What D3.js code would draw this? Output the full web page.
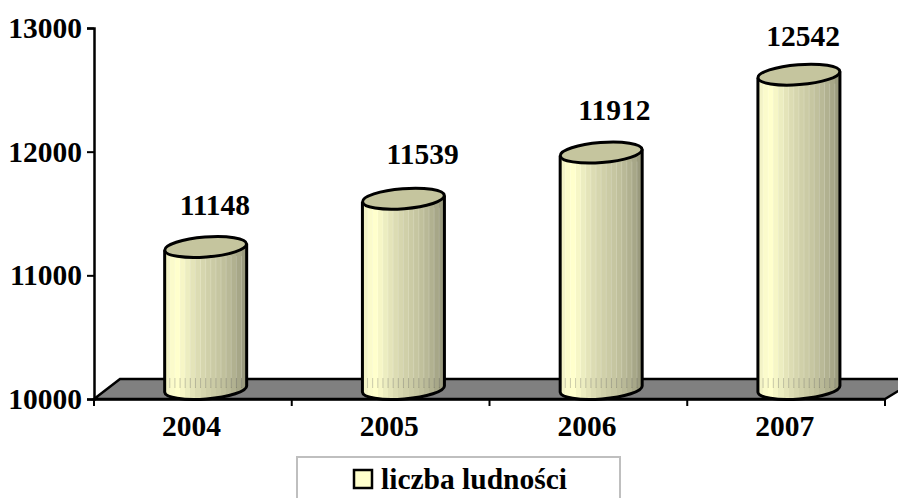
<!doctype html>
<html>
  <head>
    <meta charset="utf-8">
    <title>Liczba ludności</title>
    <script src="https://cdn.jsdelivr.net/npm/d3@7"></script>
    <style>
      html, body { margin: 0; padding: 0; background: #fff; overflow: hidden; }
      text { font-family: "Liberation Serif", serif; font-weight: bold; fill: #000; }
    </style>
  </head>
  <body>
    <script>
      const years = ['2004', '2005', '2006', '2007'];
      const population = [11148, 11539, 11912, 12542];
      const yTicks = [10000, 11000, 12000, 13000];
      const seriesName = 'liczba ludności';

      // odcienie pasków na walcu, od lewej do prawej
      const bandColors = ['#f3f3c6', '#fbfbcb', '#ffffcc', '#f6f6c6', '#ecedc0', '#e4e4b9', '#dcdcb3', '#d6d6ae',
        '#d0d0a9', '#cbcba5', '#c6c6a1', '#c0c09c', '#b9b997', '#b1b190', '#a7a788', '#9b9b7e'];

      const width = 898;
      const height = 498;
      const margin = {left: 94, right: 13, top: 28, bottom: 99};
      const depthX = 26;    // przesuniecie tylnej krawedzi podlogi
      const depthY = 20;
      const fontSize = '29.5px';

      const x = d3.scaleBand().domain(years).range([margin.left, width - margin.right]);
      const y = d3.scaleLinear().domain([10000, 13000]).range([height - margin.bottom, margin.top]);

      const svg = d3.select('body').append('svg')
          .attr('width', width)
          .attr('height', height)
          .style('display', 'block');

      // gradient w paski
      const grad = svg.append('defs').append('linearGradient').attr('id', 'walec');
      bandColors.forEach((c, i) => {
        grad.append('stop').attr('offset', i / bandColors.length).attr('stop-color', c);
        grad.append('stop').attr('offset', (i + 1) / bandColors.length).attr('stop-color', c);
      });

      // podloga
      const y0 = y(10000);
      svg.append('path')
          .attr('d', `M${margin.left},${y0}L${margin.left + depthX},${y0 - depthY}L${width + 20},${y0 - depthY}L${width - margin.right},${y0}Z`)
          .attr('fill', '#808080')
          .attr('stroke', '#000')
          .attr('stroke-width', 2.5);

      // osie
      const yAxis = svg.append('g')
          .attr('transform', `translate(${margin.left},0)`)
          .call(d3.axisLeft(y).tickValues(yTicks).tickFormat(d3.format('d')).tickSize(7).tickPadding(5));
      const xAxis = svg.append('g')
          .attr('transform', `translate(0,${y0})`)
          .call(d3.axisBottom(x).tickSize(0).tickPadding(16));
      xAxis.selectAll('.tick').append('line')
          .attr('x1', x.bandwidth() / 2).attr('x2', x.bandwidth() / 2)
          .attr('y2', 7).attr('stroke', '#000');
      xAxis.append('line')
          .attr('x1', margin.left).attr('x2', margin.left).attr('y2', 7).attr('stroke', '#000');
      svg.selectAll('.domain').attr('stroke', '#000').attr('stroke-width', 2.5);
      svg.selectAll('.tick line').attr('stroke-width', 2);
      xAxis.selectAll('line').attr('stroke-width', 2);
      svg.selectAll('.tick text').style('font-size', fontSize).attr('font-family', null);
      xAxis.selectAll('.tick text').attr('dx', -1.5);

      // walce
      const rx = 41;
      const ry = 10;
      const tilt = -4.5;
      const dy = rx * Math.sin(tilt * Math.PI / 180);
      const cx = d => x(d.year) + x.bandwidth() / 2 + 12.8;
      const topY = d => y(d.value) - 10;
      const baseY = y0 - 10;

      const bars = svg.append('g').selectAll('g')
          .data(years.map((year, i) => ({year, value: population[i]})))
          .join('g');

      bars.append('path')
          .attr('d', d => `M${cx(d) - rx},${topY(d) - dy}L${cx(d) - rx},${baseY - dy}` +
              `A${rx},${ry} ${tilt} 0 0 ${cx(d) + rx},${baseY + dy}` +
              `L${cx(d) + rx},${topY(d) + dy}` +
              `A${rx},${ry} ${tilt} 0 0 ${cx(d) - rx},${topY(d) - dy}Z`)
          .attr('fill', 'url(#walec)');

      // jasne prazki i krotkie kreski przy podstawie
      bandColors.slice(1).forEach((c, i) => {
        const off = (i + 1) / bandColors.length * 2 * rx - rx;
        bars.append('line')
            .attr('x1', d => cx(d) + off).attr('x2', d => cx(d) + off)
            .attr('y1', d => topY(d) + 9).attr('y2', baseY - 2)
            .attr('stroke', '#fff').attr('stroke-opacity', 0.18);
        bars.append('line')
            .attr('x1', d => cx(d) + off).attr('x2', d => cx(d) + off)
            .attr('y1', baseY - 11).attr('y2', baseY - 1)
            .attr('stroke', '#000').attr('stroke-opacity', 0.2);
      });

      // obrys walca
      bars.append('path')
          .attr('d', d => `M${cx(d) - rx},${topY(d) - dy}L${cx(d) - rx},${baseY - dy}` +
              `A${rx},${ry} ${tilt} 0 0 ${cx(d) + rx},${baseY + dy}` +
              `L${cx(d) + rx},${topY(d) + dy}`)
          .attr('fill', 'none')
          .attr('stroke', '#000')
          .attr('stroke-width', 3);

      bars.append('ellipse')
          .attr('transform', d => `translate(${cx(d)},${topY(d)}) rotate(${tilt})`)
          .attr('rx', rx)
          .attr('ry', ry)
          .attr('fill', '#c5c59e')
          .attr('stroke', '#000')
          .attr('stroke-width', 3);

      // etykiety wartosci
      const labelDx = [9, 19, 13, 4];
      const labelDy = [-42, -45, -43, -39];
      bars.append('text')
          .attr('x', (d, i) => x(d.year) + x.bandwidth() / 2 + labelDx[i] + 13)
          .attr('y', (d, i) => y(d.value) + labelDy[i])
          .attr('text-anchor', 'middle')
          .style('font-size', fontSize)
          .text(d => d.value);

      // legenda
      const legend = svg.append('g');
      legend.append('rect')
          .attr('x', 297).attr('y', 457).attr('width', 323).attr('height', 60)
          .attr('fill', '#fff').attr('stroke', '#bfbfbf').attr('stroke-width', 2);
      legend.append('rect')
          .attr('x', 354).attr('y', 470).attr('width', 18).attr('height', 18)
          .attr('fill', '#ffffcc').attr('stroke', '#000').attr('stroke-width', 2.5);
      legend.append('text')
          .attr('x', 381).attr('y', 489)
          .style('font-size', fontSize)
          .text(seriesName);
    </script>
  </body>
</html>
